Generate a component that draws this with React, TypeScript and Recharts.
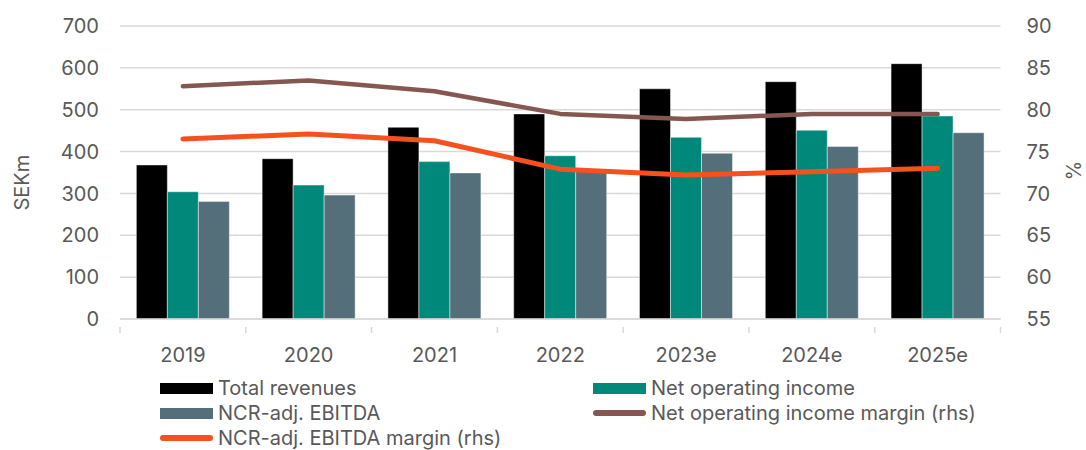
import { Bar, ComposedChart, Line, XAxis, YAxis, CartesianGrid } from "recharts"

const categories = ["2019", "2020", "2021", "2022", "2023e", "2024e", "2025e"]
const totalRevenues = [368, 383, 458, 490, 550, 567, 610]
const netOperatingIncome = [304, 320, 376, 390, 434, 451, 485]
const ncrAdjEbitda = [281, 296, 349, 355, 396, 412, 445]
const noiMargin = [82.8, 83.5, 82.2, 79.5, 78.9, 79.5, 79.5]
const ebitdaMargin = [76.5, 77.1, 76.3, 72.9, 72.2, 72.6, 73.0]

const leftTicks = [0, 100, 200, 300, 400, 500, 600, 700]
const rightTicks = [55, 60, 65, 70, 75, 80, 85, 90]

const FONT = "Inter, 'Liberation Sans', sans-serif"
const TEXT = "#595959"
const GRID = "#d9d9d9"

const data = categories.map((year, i) => ({
  year,
  revenues: totalRevenues[i],
  noi: netOperatingIncome[i],
  ebitda: ncrAdjEbitda[i],
  noiMargin: noiMargin[i],
  ebitdaMargin: ebitdaMargin[i],
}))

const legendItems = [
  { label: "Total revenues", color: "#000000", kind: "bar" },
  { label: "Net operating income", color: "#00897b", kind: "bar" },
  { label: "NCR-adj. EBITDA", color: "#546e7a", kind: "bar" },
  { label: "Net operating income margin (rhs)", color: "#855750", kind: "line" },
  { label: "NCR-adj. EBITDA margin (rhs)", color: "#f4511e", kind: "line" },
]

// category label + tick marks on the category boundaries (like Excel)
function YearTick(props: any) {
  const { x, y, payload, index, visibleTicksCount } = props
  const half = payload.offset ?? 0
  const last = index === visibleTicksCount - 1
  return (
    <g>
      <line x1={x - half} x2={x - half} y1={y} y2={y + 6} stroke={GRID} strokeWidth={1.5} />
      {last && <line x1={x + half} x2={x + half} y1={y} y2={y + 6} stroke={GRID} strokeWidth={1.5} />}
      <text x={x} y={y + 30} textAnchor="middle" dominantBaseline="middle" fill={TEXT} fontSize={20} fontFamily={FONT}>
        {payload.value}
      </text>
    </g>
  )
}

export default function App() {
  return (
    <div style={{ position: "absolute", left: 0, top: 0, width: 1086, height: 450, background: "#fff", overflow: "hidden" }}>
      <ComposedChart
        width={1086}
        height={380}
        data={data}
        margin={{ top: 26, right: 0, bottom: 20, left: 0 }}
        barCategoryGap="13%"
        barGap={0}
      >
        <CartesianGrid yAxisId="left" vertical={false} stroke={GRID} strokeWidth={1.5} />
        <XAxis
          dataKey="year"
          height={41}
          axisLine={{ stroke: GRID, strokeWidth: 1.5 }}
          tickLine={false}
          tick={<YearTick />}
          interval={0}
        />
        <YAxis
          yAxisId="left"
          width={120}
          domain={[0, 700]}
          ticks={leftTicks}
          axisLine={false}
          tickLine={false}
          tickSize={0}
          tickMargin={21}
          tick={{ fill: TEXT, fontSize: 20, fontFamily: FONT }}
          label={{ value: "SEKm", angle: -90, position: "insideLeft", dx: 17, dy: 38, fill: TEXT, fontSize: 20, fontFamily: FONT }}
        />
        <YAxis
          yAxisId="right"
          orientation="right"
          width={85.5}
          domain={[55, 90]}
          ticks={rightTicks}
          axisLine={false}
          tickLine={false}
          tickSize={0}
          tickMargin={26}
          tick={{ fill: TEXT, fontSize: 20, fontFamily: FONT, textAnchor: "start" }}
          label={{ value: "%", angle: 90, position: "insideRight", dx: -8, dy: 8, fill: TEXT, fontSize: 20, fontFamily: FONT }}
        />
        <Bar yAxisId="left" dataKey="revenues" fill="#000000" stroke="rgba(255,255,255,0.45)" strokeWidth={1} isAnimationActive={false} />
        <Bar yAxisId="left" dataKey="noi" fill="#00897b" stroke="rgba(255,255,255,0.45)" strokeWidth={1} isAnimationActive={false} />
        <Bar yAxisId="left" dataKey="ebitda" fill="#546e7a" stroke="rgba(255,255,255,0.45)" strokeWidth={1} isAnimationActive={false} />
        <Line
          yAxisId="right"
          type="linear"
          dataKey="noiMargin"
          stroke="#855750"
          strokeWidth={4.5}
          strokeLinecap="round"
          strokeLinejoin="round"
          dot={false}
          activeDot={false}
          isAnimationActive={false}
        />
        <Line
          yAxisId="right"
          type="linear"
          dataKey="ebitdaMargin"
          stroke="#f4511e"
          strokeWidth={5}
          strokeLinecap="round"
          strokeLinejoin="round"
          dot={false}
          activeDot={false}
          isAnimationActive={false}
        />
      </ComposedChart>

      {/* legend laid out in two columns, as in the source */}
      <div style={{ position: "absolute", left: 0, top: 375, width: 1086, fontFamily: FONT, fontSize: 20, color: TEXT }}>
        {legendItems.map((item, i) => (
          <div
            key={item.label}
            style={{
              position: "absolute",
              left: i % 2 === 0 ? 160 : 593,
              top: Math.floor(i / 2) * 25,
              display: "flex",
              alignItems: "center",
              height: 26,
              whiteSpace: "nowrap",
            }}
          >
            <span
              style={{
                display: "inline-block",
                width: 53,
                height: item.kind === "bar" ? 11 : 6,
                borderRadius: item.kind === "bar" ? 0 : 3,
                background: item.color,
                marginRight: 5,
              }}
            />
            <span>{item.label}</span>
          </div>
        ))}
      </div>
    </div>
  )
}
